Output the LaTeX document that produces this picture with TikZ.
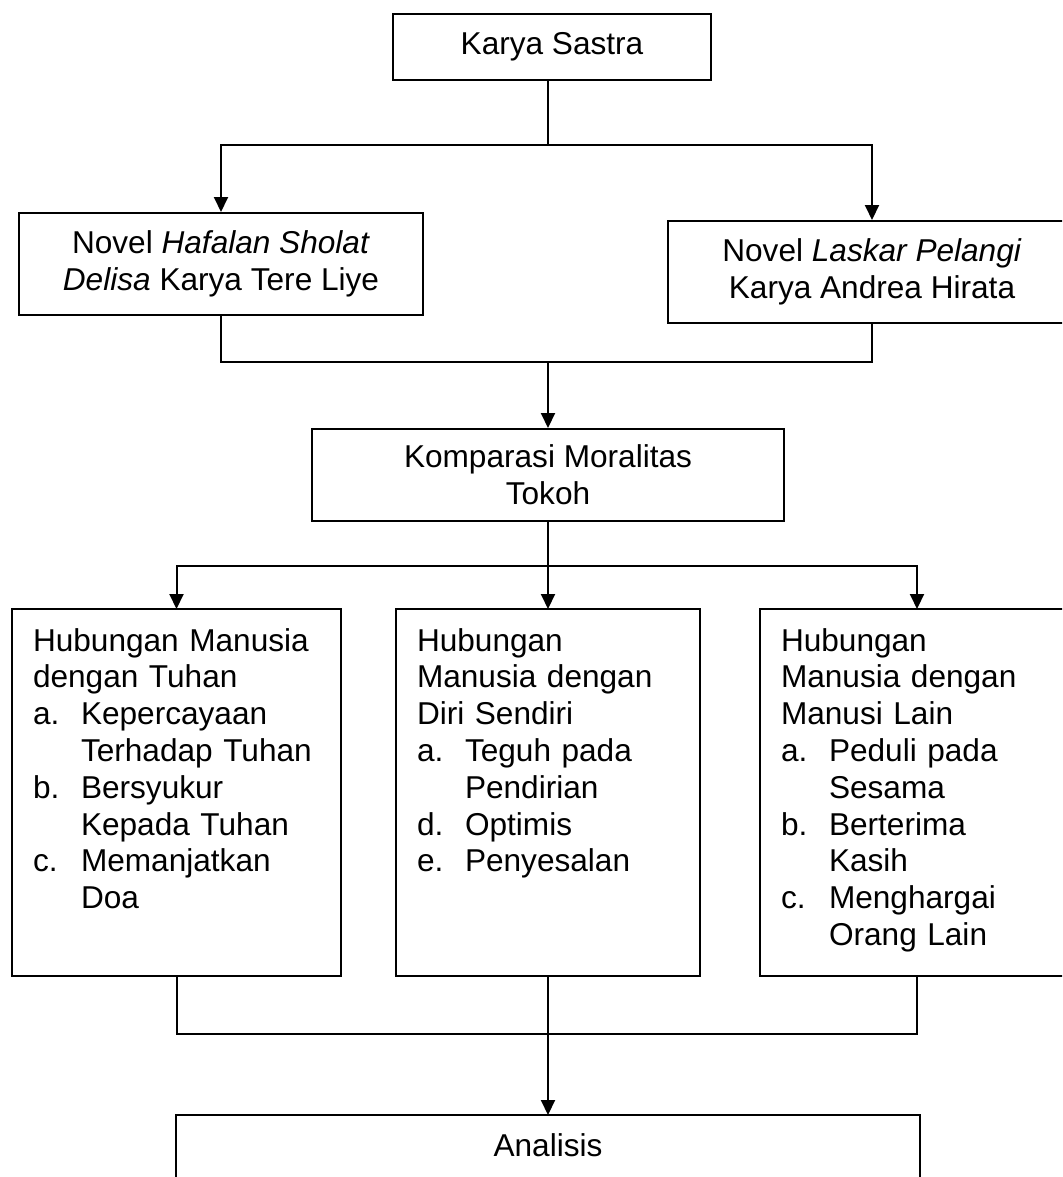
\documentclass[tikz,border=0pt]{standalone}
\usepackage{fontspec}
\setmainfont{Liberation Sans}
\usetikzlibrary{arrows.meta}
\newcommand{\listlbl}[1]{\makebox[24pt][l]{#1}}
\newcommand{\listind}{\hspace*{24pt}}

\begin{document}
\begin{tikzpicture}[x=0.5pt, y=-0.5pt, line width=1pt,
  >={Triangle[width=7pt,length=7.5pt]},
  font=\fontsize{15.8pt}{18.4pt}\selectfont,
  box/.style={draw, align=center, inner sep=0pt},
  listbox/.style={draw, anchor=north west, align=left, inner xsep=10.5pt,
    inner ysep=0pt, outer sep=0pt, text height=21pt, text depth=162.5pt}]
\useasboundingbox (0,0) rectangle (1062,1177);
\clip (0,0) rectangle (1062,1177);

% Top: literary works
\node[box, minimum width=159pt, minimum height=33pt] (sastra) at (552,47) {Karya Sastra};
\node[box, minimum width=202pt, minimum height=51pt] (hafalan) at (221,264) {Novel \textit{Hafalan Sholat}\\\textit{Delisa} Karya Tere Liye};
\node[box, minimum width=204pt, minimum height=51pt] (laskar) at (872,272) {Novel \textit{Laskar Pelangi}\\Karya Andrea Hirata};

% Comparison
\node[box, minimum width=236pt, minimum height=46pt] (komparasi) at (548,475) {Komparasi Moralitas\\Tokoh};

% Three relations
\node[listbox, text width=143.5pt] (tuhan) at (12,609) {Hubungan Manusia\\dengan Tuhan\\
  \listlbl{a.}Kepercayaan\\\listind Terhadap Tuhan\\
  \listlbl{b.}Bersyukur\\\listind Kepada Tuhan\\
  \listlbl{c.}Memanjatkan\\\listind Doa};
\node[listbox, text width=131pt] (diri) at (396,609) {Hubungan\\Manusia dengan\\Diri Sendiri\\
  \listlbl{a.}Teguh pada\\\listind Pendirian\\
  \listlbl{d.}Optimis\\
  \listlbl{e.}Penyesalan};
\node[listbox, text width=136pt] (lain) at (760,609) {Hubungan\\Manusia dengan\\Manusi Lain\\
  \listlbl{a.}Peduli pada\\\listind Sesama\\
  \listlbl{b.}Berterima\\\listind Kasih\\
  \listlbl{c.}Menghargai\\\listind Orang Lain};

% Analysis
\node[draw, anchor=north, minimum width=372pt, inner ysep=0pt, outer sep=0pt, text height=20.5pt, text depth=50pt] (analisis) at (548,1115) {Analisis};

% Connectors
\coordinate (split) at (548,145);
\draw (sastra.south -| split) -- (split);
\draw[->] (split) -| (hafalan.north);
\draw[->] (split) -| (laskar.north);

\coordinate (merge) at (548,362);
\draw (hafalan.south) |- (merge) -| (laskar.south);
\draw[->] (merge) -- (komparasi.north);

\coordinate (branch) at (548,566);
\draw (komparasi.south) -- (branch);
\draw[->] (branch) -| (tuhan.north);
\draw[->] (branch) -- (diri.north);
\draw[->] (branch) -| (lain.north);

\coordinate (join) at (548,1034);
\draw (tuhan.south) |- (join) -| (lain.south);
\draw[->] (diri.south) -- (analisis.north);
\end{tikzpicture}
\end{document}
